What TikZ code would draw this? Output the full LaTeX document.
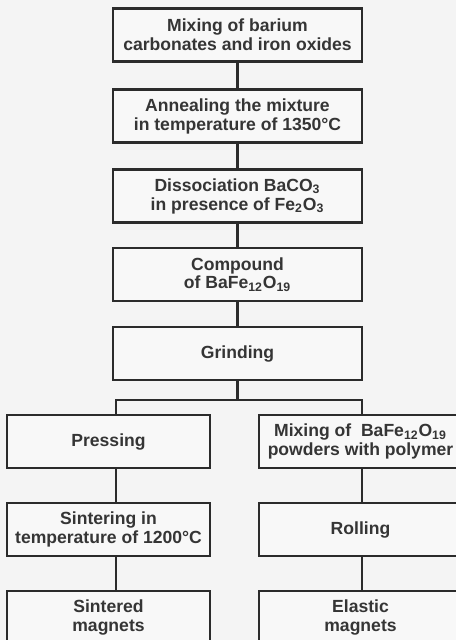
\documentclass[tikz,border=0pt]{standalone}
\usepackage{fontspec}
\setmainfont{Liberation Sans}
\definecolor{paperGray}{HTML}{F4F4F4}
\definecolor{boxFill}{HTML}{F8F8F8}
\definecolor{lineGray}{HTML}{2B2B2B}
\definecolor{textGray}{HTML}{353535}

\begin{document}
\begin{tikzpicture}
[x=0.02cm,y=-0.02cm,
  lineDecorate/.style={draw=lineGray,line width=1.3pt},%
  nodeDecorate/.style={shape=rectangle,draw=lineGray,fill=boxFill,line width=1.3pt,
    inner sep=0pt,align=center,text=textGray,
    font=\fontsize{10}{10.8}\selectfont\bfseries,minimum height=1.06cm},
  mainBox/.style={nodeDecorate,minimum width=4.98cm},
  sideBox/.style={nodeDecorate,minimum width=4.06cm}]
\fill[paperGray] (0,0) rectangle (456,640);
\clip (0,0) rectangle (456,640);
%% main column
\foreach \nodename/\y/\txt in {
  mixing/35/{Mixing of barium\\carbonates and iron oxides},
  annealing/116/{Annealing the mixture\\in temperature of 1350°C},
  dissociation/196/{Dissociation BaCO\textsubscript{3}\\in presence of Fe\textsubscript{2}O\textsubscript{3}},
  compound/274.5/{Compound\\of BaFe\textsubscript{12}O\textsubscript{19}},
  grinding/353.5/{Grinding}}
{
  \node (\nodename) at (237.5,\y) [mainBox] {\txt};
}
%% two branches
\foreach \nodename/\x/\y/\txt in {
  pressing/108.5/441.5/{Pressing},
  sintering/108.5/529.5/{Sintering in\\temperature of 1200°C},
  sintered/108.5/617.5/{Sintered\\magnets},
  mixpoly/360.5/441.5/{Mixing of\ \ BaFe\textsubscript{12}O\textsubscript{19}\\powders with polymer},
  rolling/360.5/529.5/{Rolling},
  elastic/360.5/617.5/{Elastic\\magnets}}
{
  \node (\nodename) at (\x,\y) [sideBox] {\txt};
}
\coordinate (split) at (235,400);
\coordinate (leftLine) at (116,400);
\coordinate (rightLine) at (362,400);
%% edges or lines
\path
\foreach \startnode/\endnode in {
  mixing/annealing, annealing/dissociation, dissociation/compound,
  compound/grinding}
{
  (\startnode) edge[lineDecorate] (\endnode)
};
\draw[lineDecorate] (grinding.south) -- (grinding.south |- split);
\draw[lineDecorate] (pressing.north -| leftLine) -- (leftLine)
  -- (rightLine) -- (mixpoly.north -| rightLine);
\foreach \startnode/\endnode/\side in {
  pressing/sintering/leftLine, sintering/sintered/leftLine,
  mixpoly/rolling/rightLine, rolling/elastic/rightLine}
{
  \draw[lineDecorate] (\startnode.south -| \side) -- (\endnode.north -| \side);
}
\end{tikzpicture}
\end{document}
